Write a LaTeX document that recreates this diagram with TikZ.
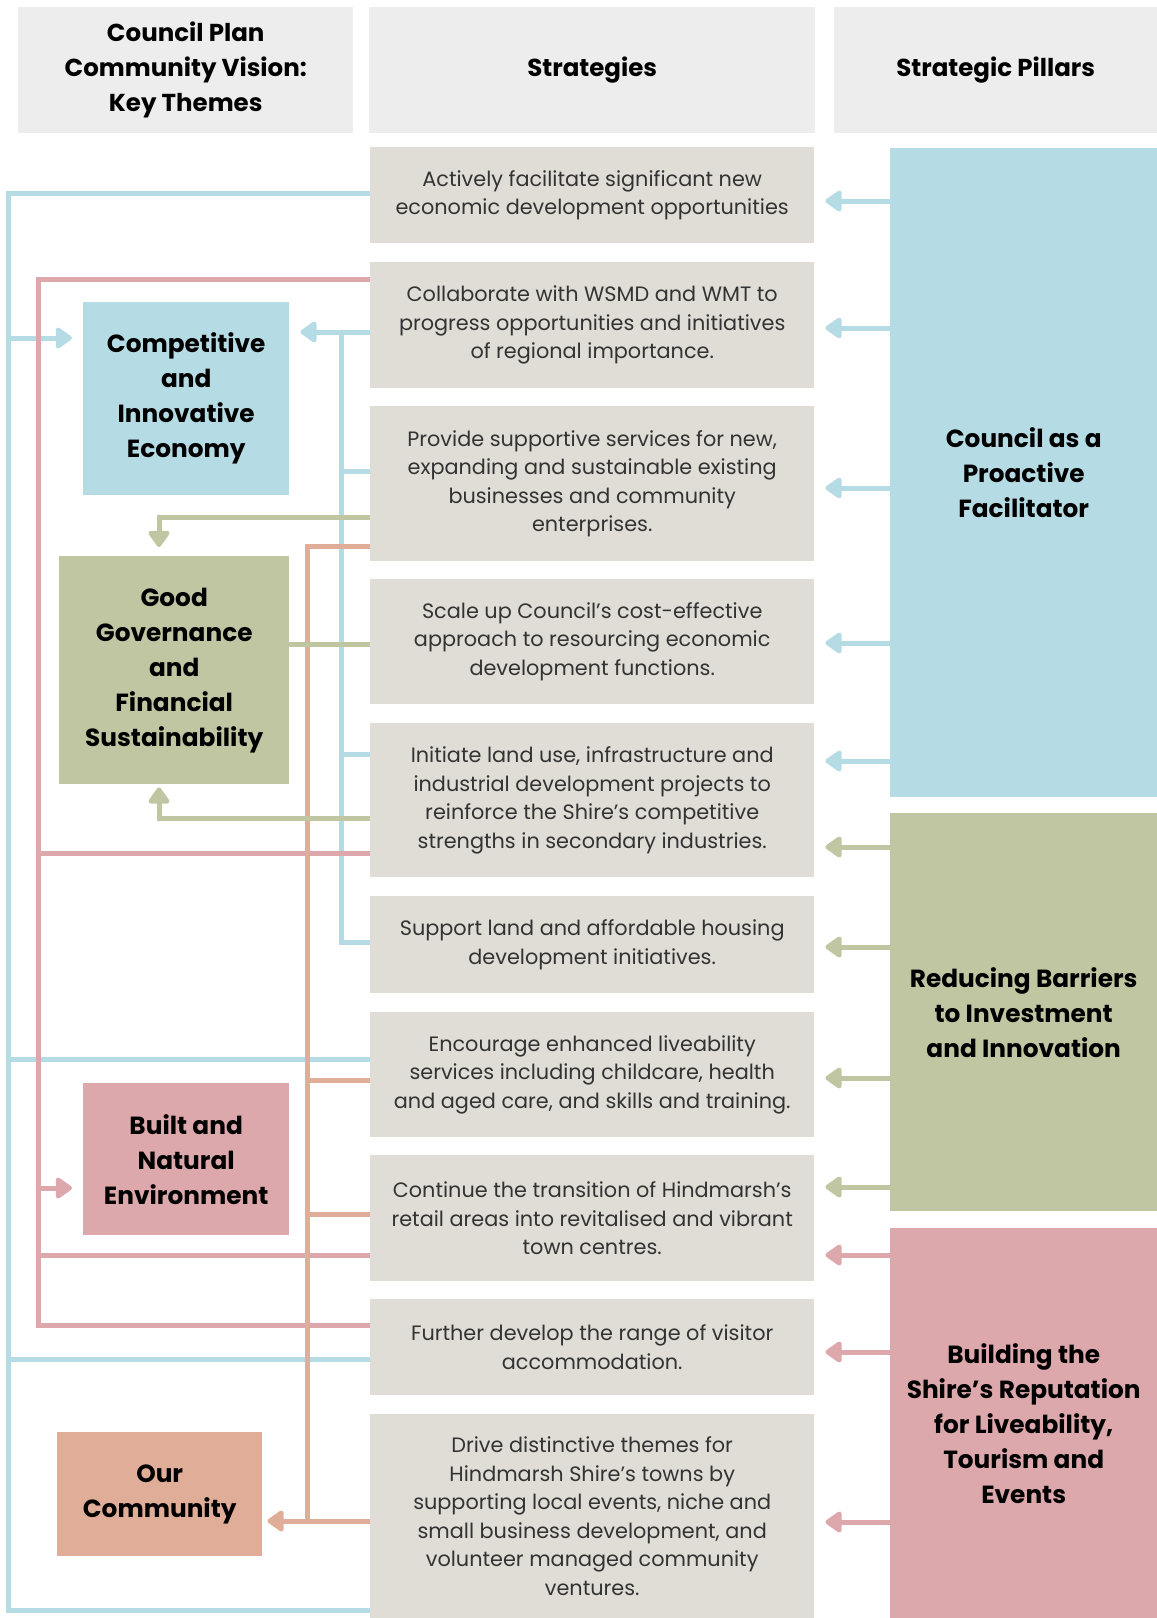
\documentclass[tikz,border=0pt]{standalone}
\usepackage{fontspec}
\setmainfont{Poppins}
\definecolor{dnxanh}{HTML}{B5DBE5}
\definecolor{dnluc}{HTML}{BFC6A1}
\definecolor{dnhong}{HTML}{DDA8AC}
\definecolor{dncam}{HTML}{DFAD98}
\definecolor{dnxam}{HTML}{E0DDD6}
\definecolor{dnxamnhat}{HTML}{EDEDED}
\definecolor{dnchu}{HTML}{333333}
\usetikzlibrary{arrows.meta}
\tikzset{
	tieude/.style={fill=dnxamnhat,anchor=north west,minimum height=126pt,align=center,inner sep=0pt,font=\bfseries\fontsize{24.5}{35}\selectfont},
	chienluoc/.style={fill=dnxam,anchor=north west,minimum width=444pt,align=center,inner sep=0pt,text=dnchu,font=\fontsize{20.8}{28.5}\selectfont},
	chude/.style={anchor=north west,align=center,inner sep=0pt,font=\bfseries\fontsize{24.8}{35}\selectfont},
	trucot/.style={anchor=north west,minimum width=267pt,align=center,inner sep=0pt,font=\bfseries\fontsize{24.8}{35}\selectfont},
	day/.style={line width=5pt},
	muiten/.style={-{Triangle[width=24pt,length=18pt,round]},shorten >=#1},
	muiten/.default=11pt
}
\begin{document}
\begin{tikzpicture}[x=1pt,y=-1pt]
		\path[use as bounding box] (0,0) rectangle (1157,1618);
		\path (8,0) coordinate (tx) (38,0) coordinate (th) (159,0) coordinate (tl) (307,0) coordinate (tc) (341,0) coordinate (ty);
		\path (18,7) node [tieude,minimum width=335pt] (h1) {Council Plan\\Community Vision:\\Key Themes}
		(369,7) node [tieude,minimum width=446pt] (h2) {Strategies}
		(834,7) node [tieude,minimum width=323pt] (h3) {Strategic Pillars};
		\path (370,147) node [chienluoc,minimum height=96pt] (s1) {Actively facilitate significant new\\economic development opportunities}
		(370,262) node [chienluoc,minimum height=126pt] (s2) {Collaborate with WSMD and WMT to\\progress opportunities and initiatives\\of regional importance.}
		(370,406) node [chienluoc,minimum height=155pt] (s3) {Provide supportive services for new,\\expanding and sustainable existing\\businesses and community\\enterprises.}
		(370,579) node [chienluoc,minimum height=125pt] (s4) {Scale up Council’s cost-effective\\approach to resourcing economic\\development functions.}
		(370,723) node [chienluoc,minimum height=154pt] (s5) {Initiate land use, infrastructure and\\industrial development projects to\\reinforce the Shire’s competitive\\strengths in secondary industries.}
		(370,896) node [chienluoc,minimum height=97pt] (s6) {Support land and affordable housing\\development initiatives.}
		(370,1012) node [chienluoc,minimum height=125pt] (s7) {Encourage enhanced liveability\\services including childcare, health\\and aged care, and skills and training.}
		(370,1155) node [chienluoc,minimum height=126pt] (s8) {Continue the transition of Hindmarsh’s\\retail areas into revitalised and vibrant\\town centres.}
		(370,1299) node [chienluoc,minimum height=96pt] (s9) {Further develop the range of visitor\\accommodation.}
		(370,1414) node [chienluoc,minimum height=204pt] (s10) {Drive distinctive themes for\\Hindmarsh Shire’s towns by\\supporting local events, niche and\\small business development, and\\volunteer managed community\\ventures.};
		\path (83,302) node [chude,fill=dnxanh,minimum width=206pt,minimum height=193pt] (comp) {Competitive\\and\\Innovative\\Economy}
		(59,556) node [chude,fill=dnluc,minimum width=230pt,minimum height=228pt] (gov) {Good\\Governance\\and\\Financial\\Sustainability}
		(83,1083) node [chude,fill=dnhong,minimum width=206pt,minimum height=152pt] (built) {Built and\\Natural\\Environment}
		(57,1432) node [chude,fill=dncam,minimum width=205pt,minimum height=124pt] (comm) {Our\\Community};
		\path (890,148) node [trucot,fill=dnxanh,minimum height=649pt] (pfac) {Council as a\\Proactive\\Facilitator}
		(890,813) node [trucot,fill=dnluc,minimum height=398pt] (pbar) {Reducing Barriers\\to Investment\\and Innovation}
		(890,1228) node [trucot,fill=dnhong,minimum height=390pt] (prep) {Building the\\Shire’s Reputation\\for Liveability,\\Tourism and\\Events};
		\draw[day,dnxanh] (s1.west |- 0,193) -| (tx |- 0,1610) -- (s10.west |- 0,1610);
		\draw[day,dnxanh] (tx |- 0,1059) -- (s7.west |- 0,1059);
		\draw[day,dnxanh] (tx |- 0,1359) -- (s9.west |- 0,1359);
		\draw[day,dnxanh,muiten] (tx |- 0,338) -- (comp.west |- 0,338);
		\draw[day,dnxanh] (s6.west |- 0,942) -| (ty |- 0,332);
		\draw[day,dnxanh,muiten] (s2.west |- 0,332) -- (comp.east |- 0,332);
		\draw[day,dnxanh] (ty |- 0,471) -- (s3.west |- 0,471);
		\draw[day,dnxanh] (ty |- 0,754) -- (s5.west |- 0,754);
		\draw[day,dnhong] (s2.west |- 0,279) -| (th |- 0,1325) -- (s9.west |- 0,1325);
		\draw[day,dnhong] (th |- 0,853) -- (s5.west |- 0,853);
		\draw[day,dnhong] (th |- 0,1255) -- (s8.west |- 0,1255);
		\draw[day,dnhong,muiten] (th |- 0,1188) -- (built.west |- 0,1188);
		\draw[day,dncam] (s3.west |- 0,546) -| (tc |- 0,1521);
		\draw[day,dncam] (tc |- 0,1080) -- (s7.west |- 0,1080);
		\draw[day,dncam] (tc |- 0,1214) -- (s8.west |- 0,1214);
		\draw[day,dncam,muiten=5pt] (s10.west |- 0,1521) -- (comm.east |- 0,1521);
		\draw[day,dnluc,muiten=9pt] (s3.west |- 0,517) -| (tl |- gov.north);
		\draw[day,dnluc] (gov.east |- 0,644) -- (s4.west |- 0,644);
		\draw[day,dnluc,muiten=3pt] (s5.west |- 0,818) -| (tl |- gov.south);
		\foreach \y/\s in {201/s1,328/s2,488/s3,643/s4,761/s5}
		\draw[day,dnxanh,muiten] (pfac.west |- 0,\y) -- (\s.east |- 0,\y);
		\foreach \y/\s in {847/s5,947/s6,1078/s7,1187/s8}
		\draw[day,dnluc,muiten] (pbar.west |- 0,\y) -- (\s.east |- 0,\y);
		\foreach \y/\s in {1255/s8,1352/s9,1522/s10}
		\draw[day,dnhong,muiten] (prep.west |- 0,\y) -- (\s.east |- 0,\y);
	\end{tikzpicture}
\end{document}
